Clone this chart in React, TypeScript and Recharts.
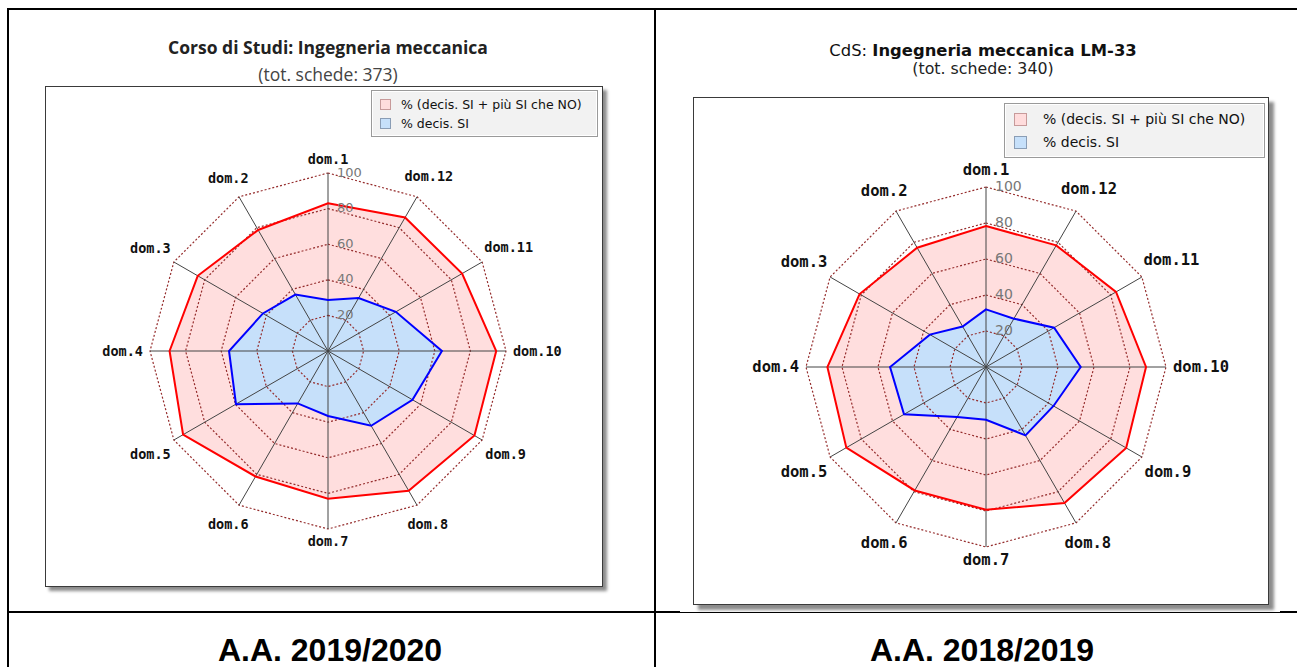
import React from "react";
import { RadarChart, Radar, PolarGrid, PolarAngleAxis, PolarRadiusAxis, Legend } from "recharts";

const domande = ["dom.1", "dom.2", "dom.3", "dom.4", "dom.5", "dom.6", "dom.7", "dom.8", "dom.9", "dom.10", "dom.11", "dom.12"];

// A.A. 2019/2020
const positivi2020 = [83, 78.5, 84.5, 89, 94, 81.4, 83, 90.6, 95, 94.5, 87, 86.6];
const decisi2020 = [28.7, 36.6, 42.2, 55.6, 59.7, 34, 36.5, 48.5, 54.8, 64, 44, 34.4];

// A.A. 2018/2019
const positivi2019 = [78.3, 76.5, 81.1, 88.1, 89.6, 79.2, 79.3, 87.2, 89.9, 88.9, 83.4, 78];
const decisi2019 = [32, 26, 36, 53.3, 52.6, 32, 29.3, 43.9, 43.3, 52.6, 43.7, 31];

// the chart runs counter-clockwise: dom.1 at the top, dom.2 on its left
const ordine = [0, 11, 10, 9, 8, 7, 6, 5, 4, 3, 2, 1];

const SERIE_TOT = "% (decis. SI + più SI che NO)";
const SERIE_SI = "% decis. SI";

const swatch: Record<string, [string, string]> = {
  [SERIE_TOT]: ["#ffdcdc", "#c79a9a"],
  [SERIE_SI]: ["#c6e0fa", "#8a9db5"],
};

type LegendOpts = { font: number; width: number; height: number; row: number; sw: number; gap: number; padX: number };

function makeLegend(o: LegendOpts) {
  return (props: any) => {
    const items = (props.payload || []).filter((p: any) => p.type !== "none");
    return (
      <div
        style={{
          width: o.width,
          height: o.height,
          boxSizing: "border-box",
          border: "1px solid #9a9a9a",
          boxShadow: "inset 0 0 0 1px #fff",
          background: "#f2f2f2",
          padding: `${(o.height - 2 - o.row * 2) / 2}px ${o.padX}px`,
          fontFamily: "DejaVu Sans",
          fontSize: o.font,
          color: "#111",
          textAlign: "left",
          whiteSpace: "nowrap",
        }}
      >
        {items.map((p: any) => (
          <div key={p.value} style={{ display: "flex", alignItems: "center", height: o.row }}>
            <span
              style={{
                display: "inline-block",
                flex: "none",
                width: o.sw,
                height: o.sw,
                boxSizing: "border-box",
                background: swatch[p.value]?.[0],
                border: `1px solid ${swatch[p.value]?.[1]}`,
                marginRight: o.gap,
              }}
            />
            {p.value}
          </div>
        ))}
      </div>
    );
  };
}

type PanelProps = {
  tot: number[];
  si: number[];
  width: number;
  height: number;
  cx: number;
  cy: number;
  r: number;
  labelSize: number;
  tickSize: number;
  topGap: number;
  legend: LegendOpts;
  legendTop: number;
  legendRight: number;
};

function Panel(p: PanelProps) {
  const data = ordine.map((i) => ({ dom: domande[i], tot: p.tot[i], si: p.si[i] }));

  const angleTick = (t: any) => {
    const dx = t.x - p.cx;
    const dy = t.y - p.cy;
    const len = Math.hypot(dx, dy) || 1;
    const c = dx / len;
    const s = dy / len;
    const w = String(t.payload.value).length * 0.602 * p.labelSize;
    const h = p.labelSize * 0.75;
    // a little more room above the top label so it clears the "100" tick
    const extra = s < -0.99 ? p.topGap : 0;
    const dist = p.r + 7 + extra + (h / 2) * Math.abs(s) + (w / 2) * Math.abs(c);
    return (
      <text
        x={p.cx + c * dist}
        y={p.cy + s * dist}
        textAnchor="middle"
        dominantBaseline="central"
        fontFamily="DejaVu Sans Mono"
        fontWeight="bold"
        fontSize={p.labelSize}
        fill="#111"
      >
        {t.payload.value}
      </text>
    );
  };

  const radiusTick = (t: any) => {
    if (t.payload.value === 0) return <g />;
    return (
      <text
        x={t.x + 9}
        y={t.y - 1}
        textAnchor="start"
        dominantBaseline="central"
        fontFamily="DejaVu Sans"
        fontSize={p.tickSize}
        fill="#777"
      >
        {t.payload.value}
      </text>
    );
  };

  const common = {
    width: p.width,
    height: p.height,
    data,
    cx: p.cx,
    cy: p.cy,
    outerRadius: p.r,
    margin: { top: 0, right: 0, bottom: 0, left: 0 },
  };

  return (
    <div style={{ position: "relative", width: p.width, height: p.height }}>
      {/* fills underneath */}
      <div style={{ position: "absolute", left: 0, top: 0 }}>
        <RadarChart {...common}>
          <PolarAngleAxis dataKey="dom" axisLine={false} tickLine={false} tick={false} />
          <PolarRadiusAxis angle={90} domain={[0, 100]} tickCount={6} axisLine={false} tickLine={false} tick={false} />
          <Radar dataKey="tot" name={SERIE_TOT} stroke="none" fill="#ffdede" fillOpacity={1} legendType="square" isAnimationActive={false} />
          <Radar dataKey="si" name={SERIE_SI} stroke="none" fill="#c6e0fa" fillOpacity={1} legendType="square" isAnimationActive={false} />
          <Legend
            layout="vertical"
            align="right"
            verticalAlign="top"
            content={makeLegend(p.legend)}
            wrapperStyle={{ top: p.legendTop, right: p.legendRight, left: "auto" }}
          />
        </RadarChart>
      </div>
      {/* grid, outlines and labels on top */}
      <div style={{ position: "absolute", left: 0, top: 0 }}>
        <RadarChart {...common}>
          <PolarGrid gridType="polygon" radialLines={false} stroke="#952c2c" strokeWidth={1.2} strokeDasharray="2 2" />
          <PolarGrid gridType="polygon" polarRadius={[]} stroke="#444" />
          <Radar dataKey="tot" stroke="#ff0000" strokeWidth={2} fill="none" fillOpacity={0} legendType="none" isAnimationActive={false} />
          <Radar dataKey="si" stroke="#0000ff" strokeWidth={2} fill="none" fillOpacity={0} legendType="none" isAnimationActive={false} />
          <PolarAngleAxis dataKey="dom" axisLine={false} tickLine={false} tick={angleTick} />
          <PolarRadiusAxis angle={90} domain={[0, 100]} tickCount={6} axisLine={false} tickLine={false} tick={radiusTick} />
        </RadarChart>
      </div>
    </div>
  );
}

const line = (left: number, top: number, width: number, height: number) => (
  <div style={{ position: "absolute", left, top, width, height, background: "#000" }} />
);

export default function App() {
  return (
    <div style={{ position: "fixed", left: 0, top: 0, width: 1297, height: 667, background: "#fff", overflow: "hidden" }}>
      {line(7, 8, 1290, 2)}
      {line(7, 8, 2, 659)}
      {line(654, 8, 2, 659)}
      {line(7, 611, 673, 2)}
      {line(680, 612, 600, 1)}
      {line(1280, 611, 17, 2)}

      {/* left: A.A. 2019/2020 */}
      <div style={{ position: "absolute", left: 28, top: 35, width: 600, textAlign: "center", fontFamily: "Open Sans", fontWeight: 700, fontSize: 17.5, color: "#222", lineHeight: "24px" }}>
        Corso di Studi: Ingegneria meccanica
      </div>
      <div style={{ position: "absolute", left: 28, top: 62, width: 600, textAlign: "center", fontFamily: "Open Sans", fontSize: 17.5, color: "#444", lineHeight: "24px" }}>
        (tot. schede: 373)
      </div>
      <div style={{ position: "absolute", left: 45, top: 86, width: 558, height: 501, boxSizing: "border-box", border: "1px solid #3a3a3a", boxShadow: "4px 4px 3px rgba(0,0,0,0.45)", background: "#fff" }}>
        <Panel
          tot={positivi2020}
          si={decisi2020}
          width={556}
          height={499}
          cx={282}
          cy={264}
          r={178}
          labelSize={13.5}
          tickSize={13}
          topGap={2}
          legend={{ font: 12.5, width: 227, height: 47, row: 19, sw: 11, gap: 10, padX: 8 }}
          legendTop={3}
          legendRight={4}
        />
      </div>

      {/* right: A.A. 2018/2019 */}
      <div style={{ position: "absolute", left: 683, top: 41, width: 600, textAlign: "center", fontFamily: "DejaVu Sans", fontSize: 16.4, color: "#111", lineHeight: "20px" }}>
        CdS: <b>Ingegneria meccanica LM-33</b>
      </div>
      <div style={{ position: "absolute", left: 683, top: 59, width: 600, textAlign: "center", fontFamily: "DejaVu Sans", fontSize: 15.8, color: "#222", lineHeight: "20px" }}>
        (tot. schede: 340)
      </div>
      <div style={{ position: "absolute", left: 693, top: 97, width: 576, height: 508, boxSizing: "border-box", border: "1px solid #3a3a3a", boxShadow: "5px 5px 3px rgba(0,0,0,0.45)", background: "#fff" }}>
        <Panel
          tot={positivi2019}
          si={decisi2019}
          width={574}
          height={506}
          cx={292}
          cy={269}
          r={180}
          labelSize={15.5}
          tickSize={14}
          topGap={4}
          legend={{ font: 14, width: 261, height: 55, row: 23, sw: 13, gap: 16, padX: 9 }}
          legendTop={5}
          legendRight={3}
        />
      </div>

      <div style={{ position: "absolute", left: 30, top: 630, width: 600, textAlign: "center", fontFamily: "Liberation Sans", fontWeight: "bold", fontSize: 32, lineHeight: "40px", color: "#000" }}>
        A.A. 2019/2020
      </div>
      <div style={{ position: "absolute", left: 682, top: 630, width: 600, textAlign: "center", fontFamily: "Liberation Sans", fontWeight: "bold", fontSize: 32, lineHeight: "40px", color: "#000" }}>
        A.A. 2018/2019
      </div>
    </div>
  );
}
